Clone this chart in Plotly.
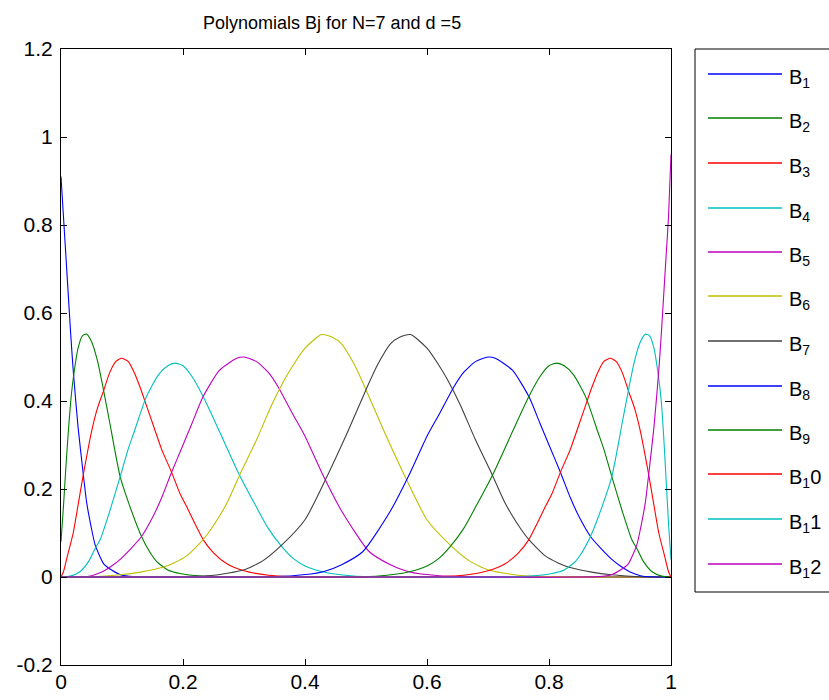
import plotly.graph_objects as go

# ---------------- data ----------------
names = ["B<sub>1</sub>", "B<sub>2</sub>", "B<sub>3</sub>", "B<sub>4</sub>", "B<sub>5</sub>", "B<sub>6</sub>",
         "B<sub>7</sub>", "B<sub>8</sub>", "B<sub>9</sub>", "B<sub>1</sub>0", "B<sub>1</sub>1", "B<sub>1</sub>2"]
colors = ["#0000FF", "#008000", "#FF0000", "#00BFBF", "#BF00BF", "#BFBF00",
          "#404040", "#0000FF", "#008000", "#FF0000", "#00BFBF", "#BF00BF"]

b1_x = [0, 0.004, 0.008, 0.012, 0.016, 0.020, 0.028, 0.036, 0.042, 0.050, 0.056, 0.070, 0.083, 0.100, 0.120, 0.143, 1.0]
b1_y = [0.91, 0.82, 0.73, 0.64, 0.55, 0.47, 0.34, 0.24, 0.17, 0.11, 0.073, 0.03, 0.016, 0.004, 0.001, 0, 0]

b2_x = [0, 0.004, 0.008, 0.012, 0.016, 0.020, 0.028, 0.035, 0.042, 0.050, 0.060, 0.069, 0.080, 0.097, 0.113,
        0.132, 0.145, 0.157, 0.175, 0.195, 0.23, 0.286, 1.0]
b2_y = [0.08, 0.16, 0.25, 0.33, 0.40, 0.45, 0.52, 0.548, 0.552, 0.535, 0.49, 0.43, 0.35, 0.228, 0.16,
        0.092, 0.058, 0.035, 0.016, 0.008, 0.002, 0, 0]

b3_x = [0, 0.004, 0.010, 0.020, 0.030, 0.037, 0.050, 0.060, 0.069, 0.080, 0.090, 0.0995, 0.110, 0.120, 0.130,
        0.140, 0.150, 0.165, 0.181, 0.195, 0.206, 0.220, 0.233, 0.250, 0.272, 0.300, 0.340, 0.380, 0.429, 1.0]
b3_y = [0, 0.012, 0.045, 0.10, 0.18, 0.236, 0.33, 0.385, 0.42, 0.465, 0.49, 0.497, 0.49, 0.465, 0.43,
        0.39, 0.35, 0.29, 0.239, 0.19, 0.16, 0.12, 0.085, 0.055, 0.03, 0.014, 0.004, 0.001, 0, 0]

b4_x = [0, 0.015, 0.031, 0.045, 0.056, 0.064, 0.080, 0.097, 0.110, 0.120, 0.140, 0.160, 0.175, 0.187, 0.200,
        0.215, 0.233, 0.260, 0.291, 0.320, 0.340, 0.362, 0.380, 0.400, 0.429, 0.480, 0.571, 1.0]
b4_y = [0, 0.002, 0.012, 0.035, 0.065, 0.084, 0.15, 0.228, 0.29, 0.33, 0.41, 0.46, 0.48, 0.486, 0.48,
        0.455, 0.41, 0.33, 0.236, 0.16, 0.11, 0.069, 0.043, 0.025, 0.012, 0.002, 0, 0]

b5_x = [0, 0.035, 0.050, 0.065, 0.083, 0.097, 0.115, 0.132, 0.150, 0.165, 0.181, 0.200, 0.215, 0.233, 0.260,
        0.288, 0.300, 0.320, 0.340, 0.356, 0.380, 0.400, 0.430, 0.460, 0.505, 0.540, 0.570, 0.620, 0.714, 1.0]
b5_y = [0, 0.0005, 0.003, 0.01, 0.025, 0.04, 0.065, 0.092, 0.135, 0.18, 0.237, 0.30, 0.35, 0.41, 0.47,
        0.497, 0.50, 0.49, 0.465, 0.432, 0.37, 0.32, 0.23, 0.15, 0.058, 0.028, 0.012, 0.003, 0, 0]

b6_x = [0, 0.05, 0.097, 0.130, 0.167, 0.185, 0.206, 0.233, 0.250, 0.272, 0.293, 0.320, 0.345, 0.365, 0.380,
        0.400, 0.427, 0.445, 0.460, 0.480, 0.498, 0.530, 0.560, 0.600, 0.637, 0.670, 0.701, 0.750, 0.800, 0.857, 1.0]
b6_y = [0, 0.0005, 0.005, 0.011, 0.022, 0.032, 0.048, 0.085, 0.117, 0.168, 0.232, 0.31, 0.39, 0.445, 0.48,
        0.52, 0.551, 0.545, 0.53, 0.485, 0.432, 0.33, 0.24, 0.13, 0.074, 0.036, 0.016, 0.004, 0.001, 0, 0]

b7_x = [0, 0.143, 0.200, 0.250, 0.299, 0.330, 0.363, 0.400, 0.440, 0.470, 0.502, 0.520, 0.540, 0.555, 0.573,
        0.600, 0.620, 0.635, 0.655, 0.680, 0.707, 0.728, 0.750, 0.767, 0.794, 0.815, 0.833, 0.870, 0.903, 0.950, 1.0]
b7_y = [0, 0, 0.001, 0.004, 0.016, 0.036, 0.074, 0.13, 0.24, 0.33, 0.432, 0.485, 0.53, 0.545, 0.551,
        0.52, 0.48, 0.445, 0.39, 0.31, 0.232, 0.168, 0.117, 0.085, 0.048, 0.032, 0.022, 0.011, 0.005, 0.0005, 0]

b8_x = [0, 0.286, 0.380, 0.430, 0.460, 0.495, 0.540, 0.570, 0.600, 0.620, 0.644, 0.660, 0.680, 0.700, 0.712,
        0.740, 0.767, 0.785, 0.800, 0.819, 0.835, 0.850, 0.868, 0.885, 0.903, 0.917, 0.935, 0.950, 0.965, 1.0]
b8_y = [0, 0, 0.003, 0.012, 0.028, 0.058, 0.15, 0.23, 0.32, 0.37, 0.432, 0.465, 0.49, 0.50, 0.497,
        0.47, 0.41, 0.35, 0.30, 0.237, 0.18, 0.135, 0.092, 0.065, 0.04, 0.025, 0.01, 0.003, 0.0005, 0]

b9_x = [0, 0.429, 0.520, 0.571, 0.600, 0.620, 0.638, 0.660, 0.680, 0.709, 0.740, 0.767, 0.785, 0.800, 0.813,
        0.825, 0.840, 0.860, 0.880, 0.890, 0.903, 0.920, 0.936, 0.944, 0.955, 0.969, 0.985, 1.0]
b9_y = [0, 0, 0.002, 0.012, 0.025, 0.043, 0.069, 0.11, 0.16, 0.236, 0.33, 0.41, 0.455, 0.48, 0.486,
        0.48, 0.46, 0.41, 0.33, 0.29, 0.228, 0.15, 0.084, 0.065, 0.035, 0.012, 0.002, 0]

b10_x = [0, 0.571, 0.620, 0.660, 0.700, 0.728, 0.750, 0.767, 0.780, 0.794, 0.805, 0.819, 0.835, 0.850, 0.860,
         0.870, 0.880, 0.890, 0.9005, 0.910, 0.920, 0.931, 0.940, 0.950, 0.963, 0.970, 0.980, 0.990, 0.996, 1.0]
b10_y = [0, 0, 0.001, 0.004, 0.014, 0.03, 0.055, 0.085, 0.12, 0.16, 0.19, 0.239, 0.29, 0.35, 0.39,
         0.43, 0.465, 0.49, 0.497, 0.49, 0.465, 0.42, 0.385, 0.33, 0.236, 0.18, 0.10, 0.045, 0.012, 0]

b11_x = [0, 0.714, 0.770, 0.805, 0.825, 0.843, 0.855, 0.868, 0.887, 0.903, 0.920, 0.931, 0.940, 0.950, 0.958,
         0.965, 0.972, 0.980, 0.984, 0.988, 0.992, 0.996, 1.0]
b11_y = [0, 0, 0.002, 0.008, 0.016, 0.035, 0.058, 0.092, 0.16, 0.228, 0.35, 0.43, 0.49, 0.535, 0.552,
         0.548, 0.52, 0.45, 0.40, 0.32, 0.22, 0.12, 0.04]

b12_x = [0, 0.857, 0.880, 0.900, 0.917, 0.930, 0.944, 0.950, 0.958, 0.964, 0.972, 0.980, 0.984, 0.988, 0.992, 0.996, 1.0]
b12_y = [0, 0, 0.001, 0.004, 0.016, 0.03, 0.073, 0.11, 0.17, 0.24, 0.34, 0.47, 0.55, 0.64, 0.73, 0.82, 0.96]

xs = [b1_x, b2_x, b3_x, b4_x, b5_x, b6_x, b7_x, b8_x, b9_x, b10_x, b11_x, b12_x]
ys = [b1_y, b2_y, b3_y, b4_y, b5_y, b6_y, b7_y, b8_y, b9_y, b10_y, b11_y, b12_y]

x_ticks = [0, 0.2, 0.4, 0.6, 0.8, 1]
x_ticktext = ["0", "0.2", "0.4", "0.6", "0.8", "1"]
y_ticks = [-0.2, 0, 0.2, 0.4, 0.6, 0.8, 1, 1.2]
y_ticktext = ["-0.2", "0", "0.2", "0.4", "0.6", "0.8", "1", "1.2"]

title_text = "Polynomials Bj for N=7 and d =5"

# ---------------- figure ----------------
W, H = 829, 700
L, R, T, B = 61, 671, 49, 665  # plot area in pixels

fig = go.Figure()
for x, y, n, c in zip(xs, ys, names, colors):
    fig.add_trace(go.Scatter(x=x, y=y, mode="lines", name=n,
                             line=dict(color=c, width=1.1, shape="spline", smoothing=0.6),
                             showlegend=False, hoverinfo="skip"))

FONT = "Liberation Sans, Arial, sans-serif"

def px2paper_x(px):
    return (px - L) / (R - L)

def px2paper_y(py):
    return (B - py) / (B - T)

# legend drawn as a MATLAB-style box
shapes = [dict(type="rect", xref="paper", yref="paper",
               x0=px2paper_x(695), x1=px2paper_x(840), y0=px2paper_y(592), y1=px2paper_y(49),
               line=dict(color="black", width=1), fillcolor="white", layer="above")]
annotations = []
for i, (n, c) in enumerate(zip(names, colors)):
    yy = round(74 + i * 44.5)
    shapes.append(dict(type="line", xref="paper", yref="paper",
                       x0=px2paper_x(708), x1=px2paper_x(782), y0=px2paper_y(yy), y1=px2paper_y(yy),
                       line=dict(color=c, width=1.5), layer="above"))
    annotations.append(dict(xref="paper", yref="paper", x=px2paper_x(788), y=px2paper_y(yy - 9),
                            text=n, showarrow=False, xanchor="left", yanchor="top", borderpad=0,
                            font=dict(family=FONT, size=20, color="black")))

annotations.append(dict(xref="paper", yref="paper", x=px2paper_x(332), y=px2paper_y(11), text=title_text,
                        showarrow=False, xanchor="center", yanchor="top",
                        font=dict(family=FONT, size=18, color="black")))

fig.update_layout(
    width=W, height=H,
    margin=dict(l=L, r=W - R, t=T, b=H - B, pad=0, autoexpand=False),
    paper_bgcolor="white", plot_bgcolor="white",
    font=dict(family=FONT, size=20, color="black"),
    shapes=shapes, annotations=annotations,
    showlegend=False,
)
fig.update_xaxes(range=[0, 1], tickvals=x_ticks, ticktext=x_ticktext, automargin=False,
                 showline=True, linecolor="black", linewidth=1, mirror="ticks",
                 ticks="inside", ticklen=6, tickcolor="black", showgrid=False, zeroline=False,
                 ticklabelstandoff=-2, tickfont=dict(family=FONT, size=21))
fig.update_yaxes(range=[-0.2, 1.2], tickvals=y_ticks, ticktext=y_ticktext, automargin=False,
                 showline=True, linecolor="black", linewidth=1, mirror="ticks",
                 ticks="inside", ticklen=6, tickcolor="black", showgrid=False, zeroline=False,
                 ticklabelstandoff=3, tickfont=dict(family=FONT, size=21))

fig.write_html("out.html", config={"displayModeBar": False},
               post_script="document.body.style.margin='0px';document.body.style.overflow='hidden';")
